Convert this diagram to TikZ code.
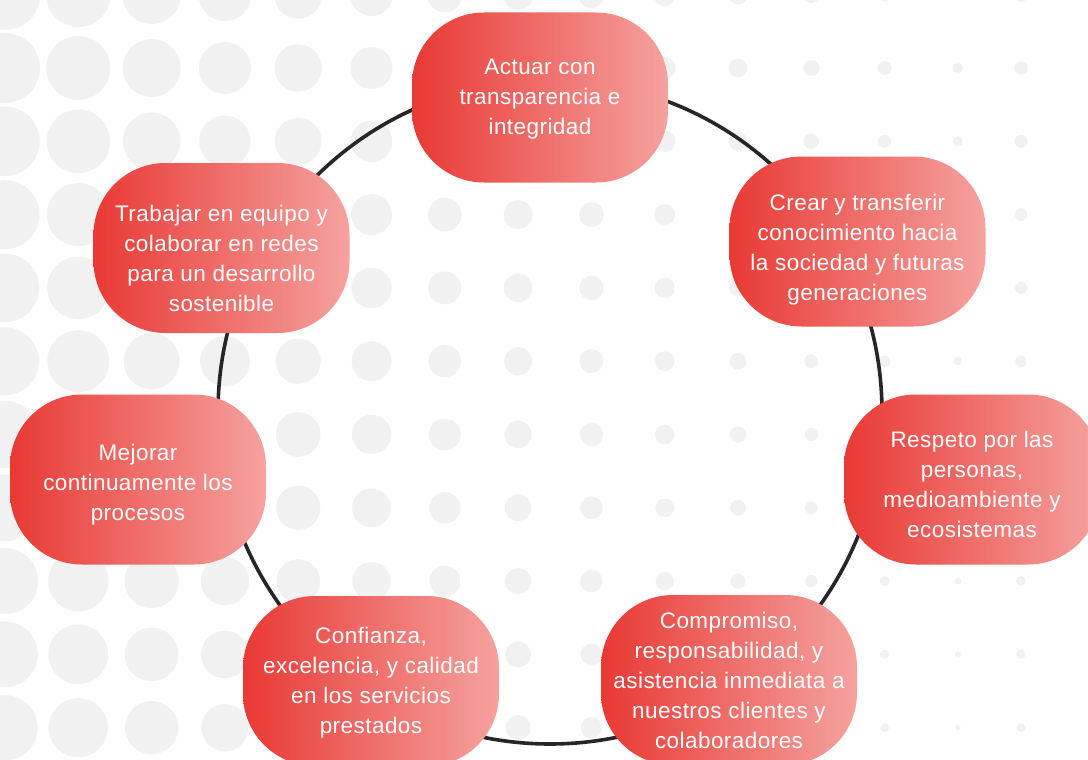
\documentclass[tikz,border=0pt]{standalone}
\usepackage{fontspec}
\setmainfont{Liberation Sans}[LetterSpace=2.0]
\definecolor{dotgray}{RGB}{241,241,241}
\definecolor{boxl}{RGB}{233,57,52}
\definecolor{boxr}{RGB}{245,162,159}
\definecolor{ring}{RGB}{38,38,38}
\begin{document}
\begin{tikzpicture}[x=1pt,y=-1pt,
  valuebox/.style={rounded corners=72pt, minimum width=256pt, minimum height=170pt,
    left color=boxl, right color=boxr, draw=none, inner sep=0pt},
  valuetext/.style={text=white, align=center, inner sep=0pt,
    font=\fontsize{22.5}{30}\selectfont}]
\useasboundingbox (0,0) rectangle (1088,760);
\fill[white] (0,0) rectangle (1088,760);
% dotted background
\foreach \cx/\rr in {5/35, 78.3/32, 151.6/29, 224.9/26, 298.2/23.7, 371.5/21,
  444.8/17.3, 518.1/15, 591.4/13, 664.7/11, 738/9.5, 811.3/8, 884.6/6.8,
  957.9/5.2, 1021/6.8} {
  \foreach \k in {-1,...,9} {
    \pgfmathsetmacro{\rad}{max(2.2,\rr-0.27*\k)}
    \fill[dotgray] (\cx,68+73.3*\k) circle (\rad pt);
  }
}
% ring
\coordinate (c) at (550,412);
\draw[ring, line width=3.6pt] (c) circle (332pt);
% boxes
\node[valuebox] (b1) at (540,97.5) {};
\node[valuebox] (b2) at (857.5,241.5) {};
\node[valuebox] (b3) at (972,479.5) {};
\node[valuebox] (b4) at (729,680) {};
\node[valuebox] (b5) at (371,681) {};
\node[valuebox] (b6) at (138,479.5) {};
\node[valuebox] (b7) at (221.5,248) {};
% texts
\node[valuetext] (t1) at (540,99.5) {Actuar con\\transparencia e\\integridad};
\node[valuetext] (t2) at (857.5,249.5) {Crear y transferir\\conocimiento hacia\\la sociedad y futuras\\generaciones};
\node[valuetext] (t3) at (972,484.5) {Respeto por las\\personas,\\medioambiente y\\ecosistemas};
\node[valuetext] (t4) at (729,680.5) {Compromiso,\\responsabilidad, y\\asistencia inmediata a\\nuestros clientes y\\colaboradores};
\node[valuetext] (t5) at (371,682.5) {Confianza,\\excelencia, y calidad\\en los servicios\\prestados};
\node[valuetext] (t6) at (138,484.5) {Mejorar\\continuamente los\\procesos};
\node[valuetext] (t7) at (221.5,258.5) {Trabajar en equipo y\\colaborar en redes\\para un desarrollo\\sostenible};
\end{tikzpicture}
\end{document}
